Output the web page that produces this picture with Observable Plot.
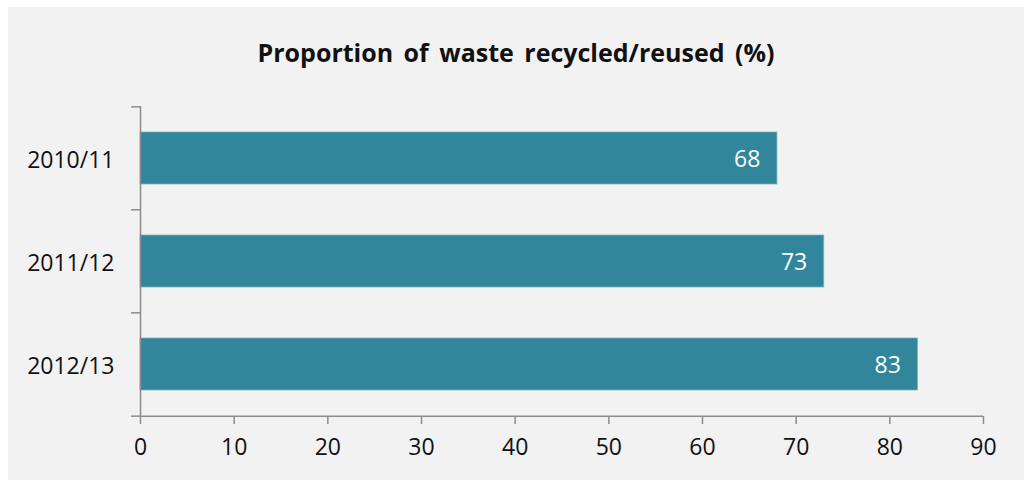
<!DOCTYPE html>
<html>
<head>
<meta charset="utf-8">
<script src="https://cdn.jsdelivr.net/npm/d3@7"></script>
<script src="https://cdn.jsdelivr.net/npm/@observablehq/plot@0.6"></script>
<style>
  html, body { margin: 0; padding: 0; background: #ffffff; }
  #wrap { position: absolute; left: 8px; top: 7px; width: 1016px; height: 473px; background: #f2f2f2; font-family: "Open Sans", "Noto Sans", sans-serif; }
  #title { height: 76px; box-sizing: border-box; padding-top: 31px; text-align: center; font-size: 25px; line-height: 28px; font-weight: bold; color: #111; word-spacing: 4px; }
  svg { display: block; }
</style>
</head>
<body>
<div id="wrap">
  <div id="title">Proportion of waste recycled/reused (%)</div>
  <div id="chart"></div>
</div>
<script>
const categories = ["2010/11", "2011/12", "2012/13"];
const values = [68, 73, 83];
const xTicks = [0, 10, 20, 30, 40, 50, 60, 70, 80, 90];

const data = categories.map((c, i) => ({year: c, value: values[i]}));

const W = 1016, H = 397;
const mL = 132, mR = 41, mT = 23, mB = 64;
const step = (H - mT - mB) / categories.length;
const axisColor = "#8c8c8c";

const chart = Plot.plot({
  width: W,
  height: H,
  marginLeft: mL,
  marginRight: mR,
  marginTop: mT,
  marginBottom: mB,
  style: {background: "transparent", fontFamily: "'Open Sans', 'Noto Sans', sans-serif", fontSize: "23px", color: "#111"},
  x: {domain: [0, 90], axis: null},
  y: {domain: categories, paddingInner: 0.5, paddingOuter: 0.25, axis: null},
  marks: [
    Plot.barX(data, {x: "value", y: "year", fill: "#31869b", stroke: "#7fb2c1", strokeWidth: 0.8}),
    Plot.text(data, {x: "value", y: "year", text: d => String(d.value), textAnchor: "end", dx: -17, dy: 1, fill: "#ffffff", fontSize: 23}),
    // y axis line
    Plot.ruleX([0], {stroke: axisColor, strokeWidth: 1.5}),
    // x axis line at bottom boundary
    Plot.ruleY([categories[categories.length - 1]], {x1: 0, x2: 90, dy: step / 2, stroke: axisColor, strokeWidth: 1.5}),
    // y ticks at category boundaries
    Plot.ruleY(categories, {x1: 0, x2: 0, insetLeft: -9, dy: -step / 2, stroke: axisColor, strokeWidth: 1.5}),
    Plot.ruleY([categories[categories.length - 1]], {x1: 0, x2: 0, insetLeft: -9, dy: step / 2, stroke: axisColor, strokeWidth: 1.5}),
    Plot.axisX({ticks: xTicks, tickSize: 8, tickPadding: 14, stroke: axisColor, strokeWidth: 1.5, fontSize: 23, fill: "#111", label: null}),
    Plot.axisY({tickSize: 0, tickPadding: 26, dy: 2, fontSize: 23, fill: "#111", label: null})
  ]
});
document.getElementById("chart").appendChild(chart);
</script>
</body>
</html>
